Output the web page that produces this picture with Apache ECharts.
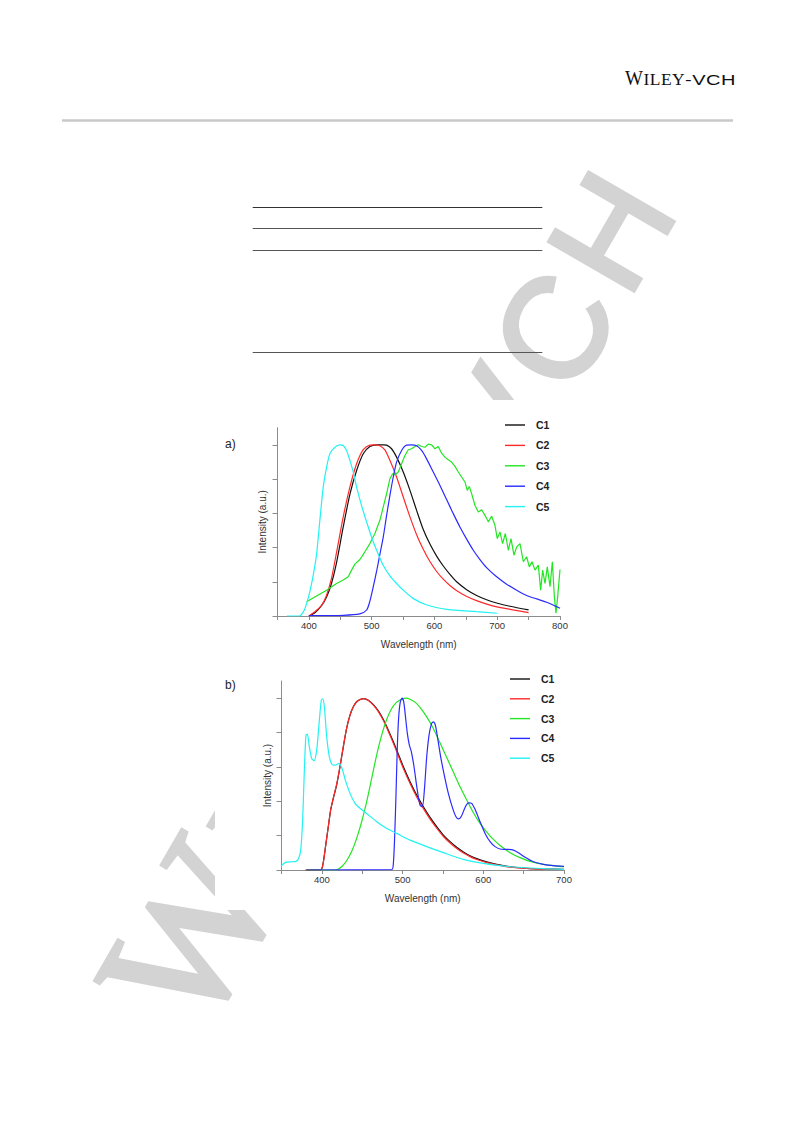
<!DOCTYPE html>
<html>
<head>
<meta charset="utf-8">
<script src="https://cdn.jsdelivr.net/npm/echarts@6/dist/echarts.min.js"></script>
<style>
html,body{margin:0;padding:0;background:#fff;}
#c{width:793px;height:1123px;}
</style>
</head>
<body>
<div id="c"></div>
<script>
// ---------- data ----------
const seriesNames = ['C1', 'C2', 'C3', 'C4', 'C5'];
const xTickLabelsA = [400, 500, 600, 700, 800];
const xTickLabelsB = [400, 500, 600, 700];
const yTickValues = [0, 0.2, 0.4, 0.6, 0.8, 1.0];

// chart a)  [wavelength (nm), intensity (a.u.)]
const aC1 = [[400,0],[410,0.02],[420,0.06],[428,0.11],[436,0.19],[444,0.31],[454.7,0.52],[465.3,0.71],[476,0.85],[486.6,0.948],[497.2,0.99],[507.8,1.0],[518.5,1.0],[523.8,0.998],[531.7,0.977],[539.7,0.928],[550.3,0.841],[561,0.734],[571.6,0.617],[582.2,0.505],[592.8,0.42],[603.5,0.35],[614.1,0.292],[624.7,0.243],[635.3,0.2],[651.3,0.154],[667.2,0.12],[683.1,0.095],[699.1,0.076],[720.3,0.057],[750,0.036]];
const aC2 = [[400,0],[408,0.02],[420,0.06],[428,0.12],[436,0.22],[444,0.37],[454.7,0.579],[465.3,0.753],[476,0.889],[486.6,0.972],[497.2,0.998],[505,1.0],[513,0.995],[521,0.97],[529,0.91],[539.7,0.812],[550.3,0.695],[561,0.579],[571.6,0.475],[582.2,0.39],[592.8,0.318],[603.5,0.26],[614,0.215],[624.7,0.178],[635,0.149],[650,0.117],[667,0.09],[694,0.058],[725,0.036],[750,0.02]];
const aC3 = [[396.3,0.083],[412.2,0.117],[428.2,0.151],[444.1,0.19],[454.7,0.21],[462.7,0.229],[468,0.268],[473.3,0.303],[481.3,0.33],[489.2,0.375],[497.2,0.423],[505.2,0.482],[513.1,0.559],[518.5,0.637],[523.8,0.715],[529.1,0.802],[533.3,0.831],[537.6,0.825],[542.4,0.841],[547.7,0.889],[553,0.938],[558.3,0.971],[563.6,0.977],[568.9,0.99],[574.2,1.0],[579.5,0.99],[584.9,0.986],[590.2,1.004],[595.5,1.0],[600.8,0.977],[606.1,0.99],[611.4,0.951],[616.7,0.928],[622,0.913],[627.3,0.899],[632.7,0.874],[638,0.841],[643.3,0.812],[648.6,0.783],[652.3,0.734],[655.5,0.757],[659.2,0.715],[664.5,0.647],[669.9,0.608],[675.2,0.621],[680.5,0.588],[685.8,0.55],[691.1,0.583],[696.4,0.53],[700.1,0.452],[704.4,0.491],[708.6,0.423],[712.9,0.482],[717.7,0.384],[721.9,0.452],[726.7,0.355],[731,0.404],[736.3,0.423],[741.6,0.317],[746.9,0.346],[751.1,0.287],[755.4,0.317],[760.2,0.268],[765.5,0.297],[769.2,0.151],[772.4,0.268],[776.1,0.19],[779.8,0.287],[784.1,0.171],[787.8,0.317],[791,0.113],[793.6,0.016],[796.3,0.113],[800,0.272]];
const aC4 = [[400,0.002],[455,0.004],[481,0.012],[492,0.035],[497.4,0.09],[502.5,0.17],[507.8,0.26],[513.1,0.36],[518.5,0.462],[523.8,0.588],[529.1,0.705],[534.4,0.812],[539.7,0.899],[547.7,0.967],[555.6,0.998],[563.6,1.0],[571.6,0.994],[579.5,0.967],[587.5,0.918],[598.1,0.841],[608.8,0.763],[619.4,0.68],[630,0.598],[640.6,0.52],[651.3,0.449],[661.9,0.384],[672.5,0.33],[683.1,0.283],[699.1,0.229],[715,0.186],[731,0.151],[746.9,0.12],[762.8,0.1],[778.7,0.08],[794.7,0.055],[800,0.045]];
const aC5 = [[365,0],[385,0],[392,0.03],[397,0.08],[402,0.15],[407,0.24],[412.2,0.36],[417.5,0.56],[422.8,0.753],[428.2,0.87],[433.5,0.948],[441.4,0.986],[449.4,1.0],[454.7,0.996],[460,0.967],[465.3,0.909],[470.7,0.841],[476,0.753],[483.9,0.645],[491.9,0.55],[499.9,0.46],[507.8,0.385],[518.5,0.295],[529.1,0.235],[539.7,0.19],[550.3,0.151],[566,0.103],[588,0.064],[620,0.039],[667,0.025],[700,0.016]];

// chart b)
const bC1 = [[380,0],[397.7,0],[400.2,0.01],[402.2,0.058],[405.1,0.155],[408,0.252],[410.9,0.349],[414.2,0.417],[418.3,0.494],[422.5,0.601],[426.6,0.717],[430.7,0.824],[434.9,0.901],[439,0.95],[443.1,0.979],[448.1,0.994],[452.2,0.998],[457.6,0.988],[463.8,0.963],[470,0.926],[476.2,0.876],[482.4,0.814],[488.6,0.746],[494.8,0.674],[501,0.601],[509.3,0.514],[517.5,0.436],[525.8,0.368],[534.1,0.306],[542.3,0.252],[550.6,0.203],[558.9,0.165],[567.1,0.132],[575.4,0.105],[583.6,0.083],[591.9,0.066],[604.3,0.047],[616.7,0.033],[633.2,0.019],[653.9,0.01],[674.5,0.006],[700,0.004]];
const bC2 = [[380,0],[398,0],[400.5,0.015],[402.5,0.065],[405.3,0.162],[408.2,0.26],[411,0.352],[414.2,0.42],[418.3,0.498],[422.5,0.605],[426.6,0.72],[430.7,0.826],[434.9,0.902],[439,0.95],[443.1,0.979],[448.1,0.994],[452.2,0.998],[457.6,0.987],[463.8,0.96],[470,0.922],[476.2,0.87],[482.4,0.806],[488.6,0.737],[494.8,0.664],[501,0.59],[509.3,0.503],[517.5,0.425],[525.8,0.357],[534.1,0.296],[542.3,0.243],[550.6,0.195],[558.9,0.157],[567.1,0.125],[575.4,0.099],[583.6,0.078],[591.9,0.061],[604.3,0.043],[616.7,0.03],[633.2,0.017],[653.9,0.009],[674.5,0.005],[700,0.003]];
const bC3 = [[381,0],[416.3,0],[420.4,0.006],[424.5,0.019],[430.7,0.054],[436.9,0.107],[443.1,0.184],[449.3,0.281],[455.5,0.397],[461.7,0.533],[467.9,0.669],[474.1,0.785],[480.3,0.876],[486.5,0.94],[492.7,0.977],[498.9,0.994],[504.3,1.0],[509.2,0.994],[515.4,0.977],[521.6,0.946],[529.9,0.891],[538.1,0.824],[546.4,0.74],[554.7,0.655],[562.9,0.57],[571.2,0.484],[579.5,0.407],[587.7,0.333],[596,0.271],[604.3,0.221],[612.5,0.178],[620.8,0.143],[633.2,0.101],[645.6,0.072],[658,0.05],[674.5,0.033],[691,0.023],[700,0.019]];
const bC4 = [[381,0],[486.5,0.002],[488.6,0.039],[490.2,0.194],[491.9,0.446],[493.5,0.717],[495.2,0.891],[497.2,0.979],[499.3,1.0],[501.4,0.979],[503.4,0.901],[505.9,0.795],[508.4,0.727],[510.9,0.688],[514.2,0.601],[517.9,0.475],[521.6,0.378],[524.5,0.368],[527,0.465],[529.9,0.659],[532.8,0.785],[535.7,0.849],[538.1,0.862],[540.6,0.843],[543.5,0.766],[547.2,0.659],[551.4,0.558],[556.7,0.446],[562.1,0.359],[566.2,0.31],[569.5,0.297],[573.2,0.316],[577.4,0.364],[581.5,0.391],[585.6,0.388],[589.8,0.353],[596,0.281],[602.2,0.213],[608.4,0.165],[614.6,0.136],[620.8,0.122],[629.1,0.12],[637.3,0.116],[643.5,0.101],[651.8,0.074],[662.1,0.048],[674.5,0.033],[686.9,0.025],[700,0.021]];
const bC5 = [[349.4,0.023],[354.3,0.043],[362.6,0.048],[368,0.05],[371.3,0.068],[373.8,0.116],[376.2,0.291],[378.3,0.581],[380.3,0.785],[382,0.791],[384.5,0.717],[387.4,0.649],[390.3,0.636],[393.6,0.698],[396.9,0.872],[399.3,0.988],[401,0.996],[403.1,0.95],[406,0.775],[409.3,0.659],[412.6,0.614],[416.7,0.61],[420.9,0.62],[425,0.591],[429.1,0.523],[434.9,0.446],[441.1,0.388],[447.3,0.359],[455.6,0.329],[468,0.281],[480.4,0.242],[492.8,0.213],[509.3,0.174],[529.9,0.136],[550.6,0.101],[575.4,0.062],[600.2,0.039],[633.2,0.019],[674.4,0.008],[700,0.004]];

const dataA = [aC1, aC2, aC3, aC4, aC5];
const dataB = [bC1, bC2, bC3, bC4, bC5];
const lineColors = ['#111111', '#ff2a2a', '#22e622', '#2b2bff', '#22f2f2'];

// ---------- layout helpers ----------
const SERIF = 'Liberation Serif';
const SANS = 'Liberation Sans';
function buildLogo(ls, color, z, thicken, sxW, sxSerif, sxSans) {
  const c = document.createElement('canvas').getContext('2d');
  const spec = [['W', SERIF, 20, sxW], ['I', SERIF, 16.6, sxSerif], ['L', SERIF, 16.6, sxSerif], ['E', SERIF, 16.6, sxSerif], ['Y', SERIF, 16.6, sxSerif],
                ['-', SANS, 15.4, sxSans], ['V', SANS, 15.4, sxSans], ['C', SANS, 15.4, sxSans], ['H', SANS, 15.4, sxSans]];
  let x = 0, hStem = 0;
  const kids = [];
  spec.forEach(function (s) {
    const ch = s[0], fam = s[1], size = s[2], sx = s[3];
    const font = size + 'px "' + fam + '"';
    c.font = font;
    const w = c.measureText(ch).width * sx;
    const st = { text: ch, font: font, fill: color, align: 'left', verticalAlign: 'middle', textAlign: 'left', textVerticalAlign: 'middle' };
    if (thicken) { st.stroke = color; st.lineWidth = thicken; }
    kids.push({ type: 'text', x: x, y: -(fam === SERIF ? 0.3375 : 0.3465) * size, scaleX: sx, scaleY: 1, z: z, silent: true, style: st });
    if (ch === 'H') hStem = x + 0.597 * size * sx;
    x += w + ls;
  });
  return { kids: kids, hStem: hStem };
}

const header = buildLogo(0.5, '#111111', 5, 0, 0.95, 1.05, 1.3);
const wm = buildLogo(1.2, '#d3d3d3', -20, 0.45, 1, 1, 1);
const wmScale = 9.22, wmRot = Math.PI / 3;
const wmX = 670 - wmScale * wm.hStem * Math.cos(wmRot);
const wmY = 227 + wmScale * wm.hStem * Math.sin(wmRot);

function hline(x1, x2, y, color, w) {
  return { type: 'line', z: 5, silent: true, shape: { x1: x1, y1: y, x2: x2, y2: y }, style: { stroke: color, lineWidth: w } };
}

const axisGray = '#8c8c8c';
function xAxisCfg(grid, max, labels) {
  return {
    type: 'value', gridIndex: grid, min: 350, max: max, interval: 50,
    name: 'Wavelength (nm)', nameLocation: 'middle', nameGap: 23,
    nameTextStyle: { fontFamily: SANS, fontSize: 10, color: '#333' },
    axisLine: { show: true, lineStyle: { color: axisGray, width: 1 } },
    axisTick: { show: true, inside: false, length: 4, lineStyle: { color: axisGray } },
    axisLabel: { margin: 4, fontFamily: SANS, fontSize: 9.5, color: '#333',
      formatter: function (v) { return labels.indexOf(v) >= 0 ? String(v) : ''; } },
    splitLine: { show: false }
  };
}
function yAxisCfg(grid, gap) {
  return {
    type: 'value', gridIndex: grid, min: 0, max: 1.1,
    name: 'Intensity (a.u.)', nameLocation: 'middle', nameGap: gap,
    nameTextStyle: { fontFamily: SANS, fontSize: 10, color: '#333' },
    axisLine: { show: true, lineStyle: { color: axisGray, width: 1 } },
    axisTick: { show: true, inside: false, length: 5, customValues: yTickValues, lineStyle: { color: axisGray } },
    axisLabel: { show: false },
    splitLine: { show: false }
  };
}
function legendCfg(left, top, gap) {
  return {
    orient: 'vertical', left: left, top: top, padding: 0, itemGap: gap,
    itemWidth: 20, itemHeight: 1.4, icon: 'rect', data: seriesNames, selectedMode: false,
    textStyle: { fontFamily: SANS, fontWeight: 'bold', fontSize: 10.5, color: '#222', lineHeight: 12, padding: [0, 0, 0, 6] }
  };
}

const series = [];
[dataA, dataB].forEach(function (set, gi) {
  set.forEach(function (d, i) {
    series.push({
      type: 'line', name: seriesNames[i], xAxisIndex: gi, yAxisIndex: gi, data: d,
      showSymbol: false, symbol: 'none', smooth: (gi === 0 && i === 2) ? false : 0.25,
      color: lineColors[i], lineStyle: { color: lineColors[i], width: 1.2 }, animation: false, z: 3 + (gi === 1 ? i : 0)
    });
  });
});

const option = {
  backgroundColor: '#ffffff',
  animation: false,
  grid: [
    { left: 277.5, top: 427.7, width: 282.5, height: 188.3, containLabel: false },
    { left: 281.5, top: 681, width: 282.5, height: 189, containLabel: false }
  ],
  xAxis: [xAxisCfg(0, 800, xTickLabelsA), xAxisCfg(1, 700, xTickLabelsB)],
  yAxis: [yAxisCfg(0, 10), yAxisCfg(1, 9.5)],
  legend: [legendCfg(505, 419, 8.4), legendCfg(510, 673, 7.8)],
  series: series,
  graphic: { elements: [
    { type: 'group', x: wmX, y: wmY, rotation: wmRot, scaleX: wmScale, scaleY: wmScale, z: -20, silent: true, children: wm.kids },
    { type: 'rect', z: -10, silent: true, shape: { x: 215, y: 400, width: 385, height: 510 }, style: { fill: '#ffffff' } },
    { type: 'group', x: 625, y: 85, z: 5, silent: true, children: header.kids },
    { type: 'rect', z: 5, silent: true, shape: { x: 62, y: 119.3, width: 671, height: 2.4 }, style: { fill: '#c9c9c9' } },
    hline(252.7, 542.3, 207.5, '#333333', 1),
    hline(252.7, 542.3, 228.5, '#555555', 1),
    hline(252.7, 542.3, 250.5, '#555555', 1),
    hline(252.7, 542.3, 352.5, '#555555', 1),
    { type: 'text', x: 225, y: 444, z: 5, silent: true, style: { text: 'a)', font: '12px "Liberation Sans"', fill: '#222', align: 'left', verticalAlign: 'middle', textAlign: 'left', textVerticalAlign: 'middle' } },
    { type: 'text', x: 225, y: 685, z: 5, silent: true, style: { text: 'b)', font: '12px "Liberation Sans"', fill: '#222', align: 'left', verticalAlign: 'middle', textAlign: 'left', textVerticalAlign: 'middle' } }
  ] }
};

const chart = echarts.init(document.getElementById('c'), null, { renderer: 'svg', width: 793, height: 1123 });
chart.setOption(option);
</script>
</body>
</html>
